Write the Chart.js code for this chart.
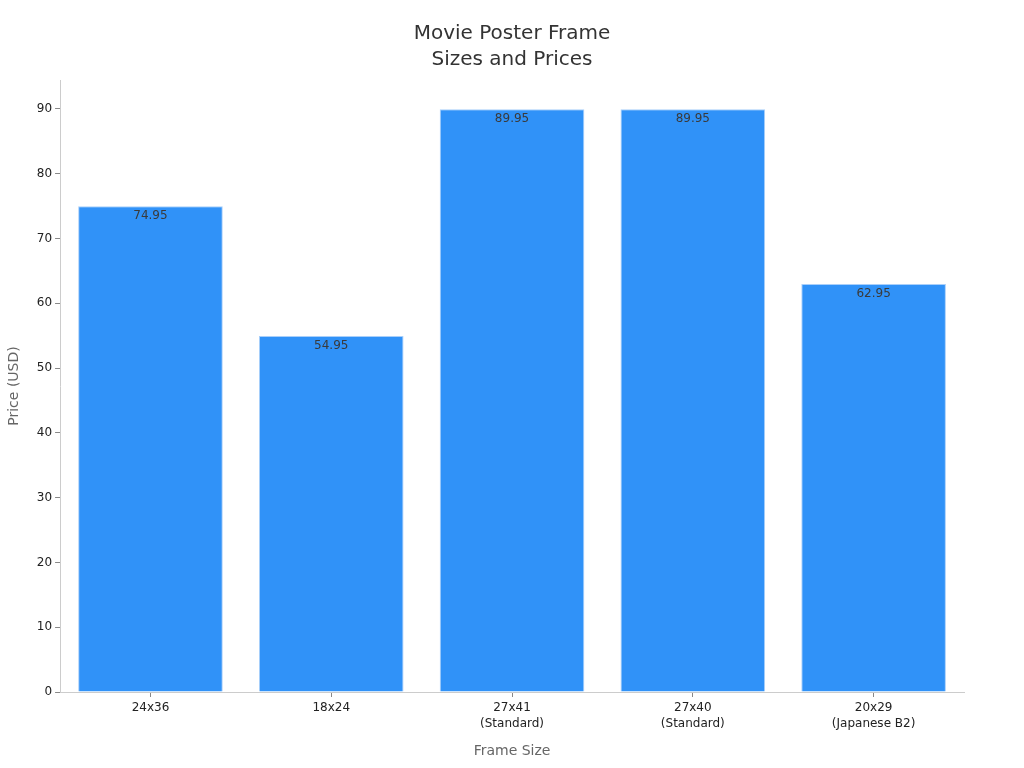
<!DOCTYPE html>
<html>
<head>
<meta charset="utf-8">
<script src="https://cdn.jsdelivr.net/npm/chart.js@4"></script>
<style>
  html, body { margin: 0; padding: 0; background: #fff; }
  #wrap { width: 1024px; height: 768px; }
</style>
</head>
<body>
<div id="wrap"><canvas id="frameChart" width="1024" height="768"></canvas></div>
<script>
const frameSizes = [['24x36'], ['18x24'], ['27x41', '(Standard)'], ['27x40', '(Standard)'], ['20x29', '(Japanese B2)']];
const prices = [74.95, 54.95, 89.95, 89.95, 62.95];
const yTicks = [0, 10, 20, 30, 40, 50, 60, 70, 80, 90];
const titleLines = ['Movie Poster Frame', 'Sizes and Prices'];

// price printed just inside the top of each bar
const valueLabels = {
    id: 'valueLabels',
    afterDatasetsDraw(chart) {
        const ctx = chart.ctx;
        const meta = chart.getDatasetMeta(0);
        ctx.save();
        ctx.font = '12px "DejaVu Sans", sans-serif';
        ctx.fillStyle = '#3a3a3a';
        ctx.textAlign = 'center';
        ctx.textBaseline = 'middle';
        meta.data.forEach(function(bar, i) {
            ctx.fillText(prices[i].toFixed(2), bar.x, bar.y + 10);
        });
        ctx.restore();
    }
};

// title centred on the whole canvas, not on the padded chart box
const pageTitle = {
    id: 'pageTitle',
    afterDraw(chart) {
        const ctx = chart.ctx;
        ctx.save();
        ctx.font = '20px "DejaVu Sans", sans-serif';
        ctx.fillStyle = '#333333';
        ctx.textAlign = 'center';
        ctx.textBaseline = 'middle';
        titleLines.forEach(function(line, i) {
            ctx.fillText(line, chart.width / 2, 34 + i * 26);
        });
        ctx.restore();
    }
};

document.addEventListener('DOMContentLoaded', function() {
    const ctx = document.getElementById('frameChart').getContext('2d');

    new Chart(ctx, {
        type: 'bar',
        data: {
            labels: frameSizes,
            datasets: [{
                label: 'Price (USD)',
                data: prices,
                backgroundColor: '#3092f8',
                borderColor: '#a9cffa',
                borderWidth: 1,
                barPercentage: 0.8,
                categoryPercentage: 1.0
            }]
        },
        options: {
            responsive: false,
            animation: false,
            layout: { padding: { left: 2, right: 60, top: 80, bottom: 4 } },
            plugins: {
                legend: { display: false },
                tooltip: { enabled: false },
                title: { display: false }
            },
            scales: {
                x: {
                    grid: { display: true, offset: false, drawOnChartArea: false, tickLength: 5, color: '#888888' },
                    border: { color: '#cccccc' },
                    ticks: { color: '#222222', font: { family: 'DejaVu Sans', size: 12, lineHeight: 1.3 }, padding: 3 },
                    title: { display: true, text: 'Frame Size', color: '#666666', font: { family: 'DejaVu Sans', size: 14 }, padding: { top: 9 } }
                },
                y: {
                    min: 0,
                    max: 94.45,
                    afterBuildTicks: function(axis) {
                        axis.ticks = yTicks.map(function(v) { return { value: v }; });
                    },
                    grid: { display: true, drawOnChartArea: false, tickLength: 5, color: '#888888' },
                    border: { color: '#cccccc' },
                    ticks: { color: '#222222', font: { family: 'DejaVu Sans', size: 12 }, padding: 3 },
                    title: { display: true, text: 'Price (USD)', color: '#666666', font: { family: 'DejaVu Sans', size: 14 }, padding: { bottom: 11 } }
                }
            }
        },
        plugins: [valueLabels, pageTitle]
    });
});
</script>
</body>
</html>
